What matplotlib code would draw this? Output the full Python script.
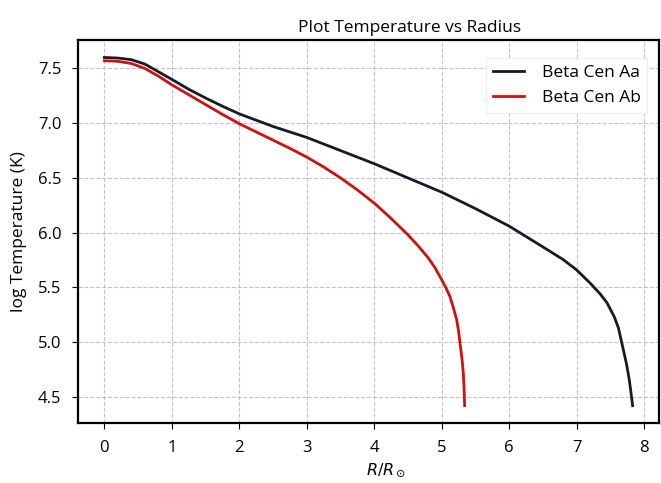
import matplotlib
matplotlib.use("Agg")
import matplotlib.pyplot as plt

plt.rcParams["font.family"] = ["Open Sans", "DejaVu Sans"]
plt.rcParams["mathtext.fontset"] = "dejavusans"

# Temperature profiles (log T) against radius in solar radii
r_aa = [0.0, 0.2, 0.4, 0.6, 0.8, 1.0, 1.25, 1.5, 1.75, 2.0, 2.5, 3.0, 3.5, 4.0,
        4.5, 5.0, 5.5, 6.0, 6.5, 6.8, 7.0, 7.2, 7.35, 7.45, 7.56, 7.62, 7.66,
        7.70, 7.74, 7.78, 7.81, 7.83]
logt_aa = [7.60, 7.595, 7.58, 7.54, 7.47, 7.40, 7.31, 7.23, 7.155, 7.085, 6.97,
           6.87, 6.75, 6.63, 6.50, 6.37, 6.22, 6.06, 5.87, 5.755, 5.66, 5.54, 5.44,
           5.36, 5.23, 5.13, 5.02, 4.91, 4.80, 4.66, 4.52, 4.42]

r_ab = [0.0, 0.2, 0.4, 0.6, 0.8, 1.0, 1.25, 1.5, 1.75, 2.0, 2.25, 2.5, 2.75, 3.0,
        3.25, 3.5, 3.75, 4.0, 4.25, 4.5, 4.65, 4.8, 4.9, 5.0, 5.06, 5.12, 5.17,
        5.22, 5.25, 5.27, 5.30, 5.32, 5.33, 5.34]
logt_ab = [7.57, 7.565, 7.545, 7.50, 7.43, 7.35, 7.26, 7.17, 7.08, 6.995, 6.92,
           6.845, 6.77, 6.69, 6.60, 6.50, 6.39, 6.27, 6.13, 5.98, 5.88, 5.77, 5.68,
           5.57, 5.50, 5.42, 5.32, 5.21, 5.10, 5.00, 4.85, 4.72, 4.60, 4.42]

labels = ["Beta Cen Aa", "Beta Cen Ab"]

fig = plt.figure(figsize=(6.61, 4.83), dpi=100)
ax = fig.add_axes([0.118, 0.124, 0.879, 0.793])

ax.plot(r_aa, logt_aa, color="#161a28", lw=2.0, label=labels[0])
ax.plot(r_ab, logt_ab, color="#d01010", lw=2.0, label=labels[1])

ax.set_xticks(range(0, 9))
ax.set_yticks([4.5, 5.0, 5.5, 6.0, 6.5, 7.0, 7.5])
ax.grid(True, color="#c4c4c4", linestyle="--", linewidth=0.8)
ax.tick_params(labelsize=12, length=4, pad=8)
for s in ax.spines.values():
    s.set_linewidth(1.6)

ax.set_title("Plot Temperature vs Radius", fontsize=12.5, x=0.57)
ax.set_xlabel(r"$R/R_\odot$", fontsize=11.5, x=0.53)
ax.set_ylabel("log Temperature (K)", fontsize=12.5, labelpad=8)
leg = ax.legend(loc="upper right", bbox_to_anchor=(0.995, 0.975),
                fontsize=12.5, framealpha=1.0, edgecolor="#f0f0f0",
                fancybox=False, handlelength=1.8, handletextpad=1.0)

fig.savefig("out.png", dpi=100)
